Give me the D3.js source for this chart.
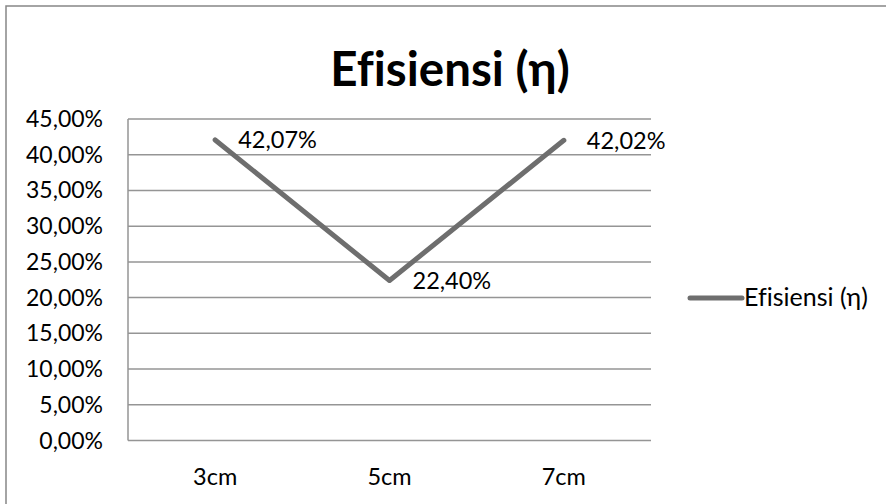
<!DOCTYPE html>
<html>
<head>
<meta charset="utf-8">
<script src="https://cdn.jsdelivr.net/npm/d3@7"></script>
<style>
  body { margin: 0; background: #fff; }
  text { font-family: Lato, "Open Sans", sans-serif; fill: #000; font-variant-ligatures: none; }
</style>
</head>
<body>
<div id="chart"></div>
<script>
// data
var categories = ["3cm", "5cm", "7cm"];
var efisiensi = [0.4207, 0.2240, 0.4202];
var yTicks = [0, 0.05, 0.10, 0.15, 0.20, 0.25, 0.30, 0.35, 0.40, 0.45];
var seriesName = "Efisiensi (\u03b7)";

var width = 886;
var height = 504;

var svg = d3.select("#chart")
  .append("svg")
  .attr("width", width)
  .attr("height", height);

// outer chart border (only top/left visible in the picture)
svg.append("rect")
  .attr("x", 6)
  .attr("y", 6)
  .attr("width", width + 20)
  .attr("height", height + 20)
  .attr("fill", "none")
  .attr("stroke", "#878787")
  .attr("stroke-width", 1.5);

var plot = { left: 128, right: 651, top: 119, bottom: 440.5 };

var x = d3.scaleBand()
  .domain(categories)
  .range([plot.left, plot.right]);

var y = d3.scaleLinear()
  .domain([0, 0.45])
  .range([plot.bottom, plot.top]);

var fmt = function (v) { return (v * 100).toFixed(2).replace(".", ",") + "%"; };

// gridlines
svg.append("g")
  .selectAll("line")
  .data(yTicks)
  .enter()
  .append("line")
  .attr("x1", plot.left)
  .attr("x2", plot.right)
  .attr("y1", function (d) { return y(d); })
  .attr("y2", function (d) { return y(d); })
  .attr("stroke", "#959595")
  .attr("stroke-width", 1.5);

// left axis line
svg.append("line")
  .attr("x1", plot.left)
  .attr("x2", plot.left)
  .attr("y1", plot.top)
  .attr("y2", plot.bottom)
  .attr("stroke", "#959595")
  .attr("stroke-width", 1.5);

// y tick labels
svg.append("g")
  .selectAll("text")
  .data(yTicks)
  .enter()
  .append("text")
  .attr("x", 103)
  .attr("y", function (d) { return y(d) + 8; })
  .attr("text-anchor", "end")
  .style("font-size", "23px")
  .text(fmt);

// category labels
svg.append("g")
  .selectAll("text")
  .data(categories)
  .enter()
  .append("text")
  .attr("x", function (d) { return x(d) + x.bandwidth() / 2; })
  .attr("y", 485)
  .attr("text-anchor", "middle")
  .style("font-size", "23.5px")
  .text(function (d) { return d; });

// series line
var pts = categories.map(function (c, i) { return { cat: c, value: efisiensi[i] }; });

svg.append("path")
  .datum(pts)
  .attr("fill", "none")
  .attr("stroke", "#6e6e6e")
  .attr("stroke-width", 5)
  .attr("stroke-linecap", "round")
  .attr("stroke-linejoin", "round")
  .attr("d", d3.line()
    .x(function (d) { return x(d.cat) + x.bandwidth() / 2; })
    .y(function (d) { return y(d.value); })
  );

// data labels
svg.append("g")
  .selectAll("text")
  .data(pts)
  .enter()
  .append("text")
  .attr("x", function (d) { return x(d.cat) + x.bandwidth() / 2 + 23; })
  .attr("y", function (d) { return y(d.value) + 8.5; })
  .style("font-size", "23.5px")
  .text(function (d) { return fmt(d.value); });

// title
svg.append("text")
  .attr("x", 450)
  .attr("y", 86)
  .attr("text-anchor", "middle")
  .style("font-size", "47.5px")
  .style("font-weight", "bold")
  .text(seriesName);

// legend
svg.append("line")
  .attr("x1", 690)
  .attr("x2", 742)
  .attr("y1", 298)
  .attr("y2", 298)
  .attr("stroke", "#6e6e6e")
  .attr("stroke-width", 5)
  .attr("stroke-linecap", "round");

svg.append("text")
  .attr("x", 744)
  .attr("y", 306)
  .style("font-size", "25px")
  .text(seriesName);
</script>
</body>
</html>
